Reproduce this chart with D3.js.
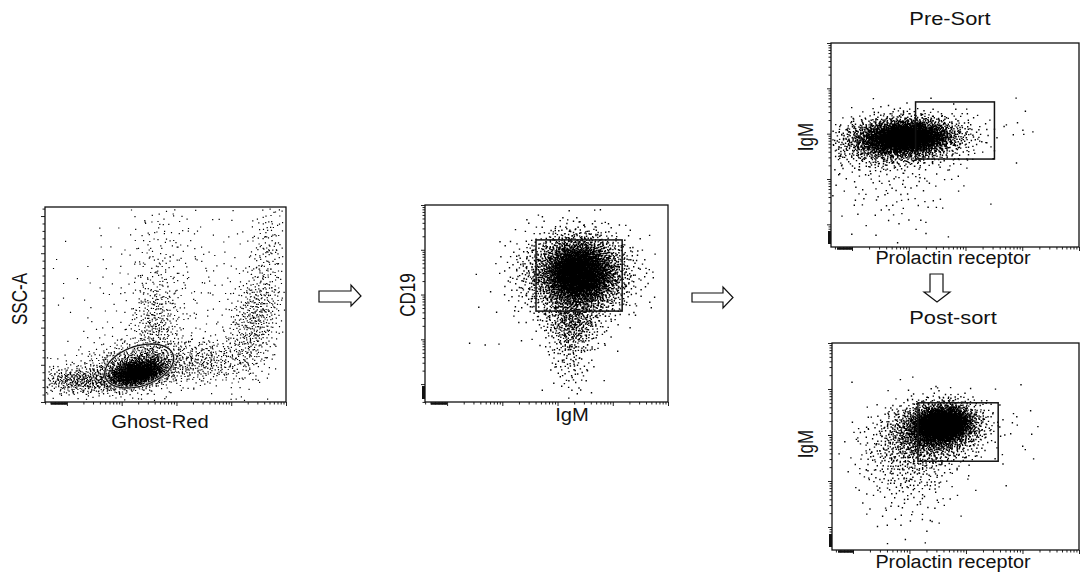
<!DOCTYPE html>
<html>
<head>
<meta charset="utf-8">
<script src="https://cdn.jsdelivr.net/npm/d3@7"></script>
<style>
  body { margin: 0; background: #fff; }
  text { font-family: "Liberation Sans", Arial, sans-serif; fill: #111; }
</style>
</head>
<body>
<script>
// populations: [centre x, centre y, spread x, spread y, correlation, events]
// fluorescence channels are in log10 units, SSC-A is linear
var liveClusters = [
    [2.28, 40300, 0.27, 10000, 0.30, 1700],
    [2.24, 49700, 0.58, 18800, 0.35, 800],
    [1.24, 29600, 0.40, 9400, 0.00, 420],
    [2.61, 103500, 0.22, 33600, 0.10, 330],
    [2.70, 197600, 0.33, 47000, 0.10, 130],
    [3.52, 53800, 0.46, 16100, 0.20, 330],
    [4.43, 110200, 0.26, 40300, 0.40, 520],
    [4.67, 211000, 0.18, 33600, 0.20, 120],
    [2.97, 137000, 1.19, 74000, 0.30, 330]
];
var bClusters = [
    [3.37, 3.50, 0.33, 0.36, 0.00, 3000],
    [3.32, 3.43, 0.51, 0.49, 0.00, 1800],
    [3.26, 2.38, 0.26, 0.36, 0.00, 450],
    [3.23, 1.50, 0.20, 0.40, 0.00, 100],
    [1.60, 2.10, 0.27, 0.33, 0.00, 4]
];
var preClusters = [
    [1.93, 2.93, 0.39, 0.18, 0.10, 2800],
    [1.84, 2.86, 0.61, 0.29, 0.10, 1500],
    [1.72, 1.95, 0.60, 0.60, 0.00, 140],
    [3.95, 3.19, 0.18, 0.33, 0.00, 8]
];
var postClusters = [
    [2.57, 3.24, 0.26, 0.20, 0.10, 2500],
    [2.45, 3.11, 0.44, 0.33, 0.10, 1500],
    [1.95, 2.55, 0.44, 0.50, 0.00, 450],
    [2.00, 1.59, 0.44, 0.54, 0.00, 50],
    [3.94, 3.11, 0.26, 0.54, 0.00, 12]
];

// gates
var liveGate = { centre: [2.32, 48400], major: [2.94, 63300], minor: [2.43, 22850] };
var bGate = [2.61, 4.17, 2.63, 4.22];
var preGate = [2.12, 3.51, 2.44, 3.70];
var postGate = [2.15, 3.57, 2.43, 3.70];

var fluorDomain = [0.6, 5];
var sscDomain = [0, 262144];

var svg = d3.select("body")
    .append("svg")
    .attr("width", 1080)
    .attr("height", 581);

var panels = [
    { data: liveClusters, box: [45, 286, 207, 402], xd: fluorDomain, yd: sscDomain, ylin: true, seed: 1, dot: 1.2 },
    { data: bClusters, box: [425, 668, 205, 402], xd: fluorDomain, yd: fluorDomain, seed: 2, dot: 1.4 },
    { data: preClusters, box: [831, 1079, 43, 247], xd: [0.63, 5], yd: [0.5, 5], seed: 3, dot: 1.4 },
    { data: postClusters, box: [832, 1079, 343, 550], xd: [0.63, 5], yd: [0.5, 5], seed: 4, dot: 1.4 }
];

// low discrepancy sequence, so the dot cloud is the same every time
function halton(i, b) {
    var f = 1, r = 0;
    while (i > 0) { f /= b; r += f * (i % b); i = Math.floor(i / b); }
    return r;
}

function logTicks(dom, major) {
    var t = [];
    for (var d = Math.floor(dom[0]); d <= Math.ceil(dom[1]); d++) {
        for (var m = 1; m <= 9; m++) {
            var v = d + Math.log10(m);
            if (v >= dom[0] && v <= dom[1] && (m == 1) == major) t.push(v);
        }
    }
    return t;
}

panels.forEach(function (p) {
    var x = d3.scaleLinear().domain(p.xd).range([p.box[0], p.box[1]]);
    var y = d3.scaleLinear().domain(p.yd).range([p.box[3], p.box[2]]);
    p.x = x; p.y = y;

    var g = svg.append("g");

    // events
    var pts = [];
    var s = p.dot;
    p.data.forEach(function (c, ci) {
        var off = p.seed * 20011 + ci * 7919 + 1;
        var k2 = Math.sqrt(1 - c[4] * c[4]);
        for (var k = 0; k < c[5]; k++) {
            var u1 = halton(k + off, 2), u2 = halton(k + off, 3);
            if (u1 <= 0) continue;
            var r = Math.sqrt(-2 * Math.log(u1));
            var z1 = r * Math.cos(2 * Math.PI * u2), z2 = r * Math.sin(2 * Math.PI * u2);
            var vx = c[0] + c[2] * z1;
            var vy = c[1] + c[3] * (c[4] * z1 + k2 * z2);
            var px = x(vx), py = y(vy);
            if (px < p.box[0] + 1 || px > p.box[1] - 2 || py < p.box[2] + 1 || py > p.box[3] - 2) continue;
            pts.push("M" + px.toFixed(1) + "," + py.toFixed(1) + "h" + s + "v" + s + "h-" + s + "z");
        }
    });
    g.append("path")
        .attr("d", pts.join(""))
        .attr("fill", "#000");

    // axes ticks
    g.append("g")
        .attr("transform", "translate(0," + p.box[3] + ")")
        .call(d3.axisBottom(x).tickValues(logTicks(p.xd, false)).tickSize(2.5).tickFormat(""));
    g.append("g")
        .attr("transform", "translate(0," + p.box[3] + ")")
        .call(d3.axisBottom(x).tickValues(logTicks(p.xd, true)).tickSize(4).tickFormat(""));
    if (p.ylin) {
        var lt = d3.range(0, 262145, 10000);
        g.append("g")
            .attr("transform", "translate(" + p.box[0] + ",0)")
            .call(d3.axisLeft(y).tickValues(lt.filter(function (v) { return v % 50000; })).tickSize(2.5).tickFormat(""));
        g.append("g")
            .attr("transform", "translate(" + p.box[0] + ",0)")
            .call(d3.axisLeft(y).tickValues(lt.filter(function (v) { return !(v % 50000); })).tickSize(4).tickFormat(""));
    } else {
        g.append("g")
            .attr("transform", "translate(" + p.box[0] + ",0)")
            .call(d3.axisLeft(y).tickValues(logTicks(p.yd, false)).tickSize(2.5).tickFormat(""));
        g.append("g")
            .attr("transform", "translate(" + p.box[0] + ",0)")
            .call(d3.axisLeft(y).tickValues(logTicks(p.yd, true)).tickSize(4).tickFormat(""));
        // compressed region near zero
        g.append("line")
            .attr("x1", p.box[0] - 1.5).attr("x2", p.box[0] - 1.5)
            .attr("y1", p.box[3] - 16).attr("y2", p.box[3] - 3)
            .attr("stroke", "#111").attr("stroke-width", 3);
    }
    g.append("line")
        .attr("x1", p.box[0] + 6).attr("x2", p.box[0] + 22)
        .attr("y1", p.box[3] + 1.5).attr("y2", p.box[3] + 1.5)
        .attr("stroke", "#111").attr("stroke-width", 2.5);
    g.selectAll(".domain").remove();
    g.selectAll(".tick line").attr("stroke", "#222").attr("stroke-width", 1);

    g.append("rect")
        .attr("x", p.box[0]).attr("y", p.box[2])
        .attr("width", p.box[1] - p.box[0]).attr("height", p.box[3] - p.box[2])
        .attr("fill", "none").attr("stroke", "#111").attr("stroke-width", 1.3);
});

// live gate ellipse
(function () {
    var p = panels[0];
    var c = [p.x(liveGate.centre[0]), p.y(liveGate.centre[1])];
    var a = [p.x(liveGate.major[0]) - c[0], p.y(liveGate.major[1]) - c[1]];
    var b = [p.x(liveGate.minor[0]) - c[0], p.y(liveGate.minor[1]) - c[1]];
    var ring = d3.range(0, 2 * Math.PI + 0.01, Math.PI / 60).map(function (t) {
        return [c[0] + a[0] * Math.cos(t) + b[0] * Math.sin(t), c[1] + a[1] * Math.cos(t) + b[1] * Math.sin(t)];
    });
    svg.append("path")
        .attr("d", d3.line()(ring) + "Z")
        .attr("fill", "none").attr("stroke", "#fff").attr("stroke-width", 2.6).attr("stroke-opacity", 0.6);
    svg.append("path")
        .attr("d", d3.line()(ring) + "Z")
        .attr("fill", "none").attr("stroke", "#111").attr("stroke-width", 1.3);
})();

[[panels[1], bGate], [panels[2], preGate], [panels[3], postGate]].forEach(function (q) {
    var p = q[0], r = q[1];
    svg.append("rect")
        .attr("x", p.x(r[0])).attr("y", p.y(r[3]))
        .attr("width", p.x(r[1]) - p.x(r[0]))
        .attr("height", p.y(r[2]) - p.y(r[3]))
        .attr("fill", "none").attr("stroke", "#111").attr("stroke-width", 1.5);
});

// labels
function hLabel(txt, cx, by, size, stretch) {
    var t = svg.append("text")
        .attr("x", cx).attr("y", by)
        .attr("text-anchor", "middle")
        .style("font-size", size + "px")
        .text(txt);
    var len = t.node().getComputedTextLength();
    t.attr("textLength", len * stretch).attr("lengthAdjust", "spacingAndGlyphs");
}
function vLabel(txt, cx, cy, size) {
    svg.append("text")
        .attr("transform", "translate(" + cx + "," + cy + ") rotate(-90) scale(1,1.25)")
        .attr("text-anchor", "middle")
        .attr("dy", "0.35em")
        .style("font-size", size + "px")
        .text(txt);
}

hLabel("Ghost-Red", 160, 428, 18, 1.12);
hLabel("IgM", 572, 421, 18, 1.12);
hLabel("Pre-Sort", 950, 25, 19, 1.15);
hLabel("Prolactin receptor", 953, 264, 18, 1.1);
hLabel("Post-sort", 953, 324, 19, 1.15);
hLabel("Prolactin receptor", 953, 568, 18, 1.1);
vLabel("SSC-A", 20, 299, 17);
vLabel("CD19", 408, 295, 17);
vLabel("IgM", 806, 137, 17);
vLabel("IgM", 806, 444, 17);

// block arrows between steps
var arrows = [
    [[319, 291], [351, 291], [351, 285], [361, 296], [351, 306], [351, 302], [319, 302]],
    [[692, 293], [723, 293], [723, 287], [733, 297.5], [723, 308], [723, 302], [692, 302]],
    [[930, 274], [943, 274], [943, 292], [950, 292], [937, 302], [924, 292], [930, 292]]
];
svg.selectAll(".arrow")
    .data(arrows)
    .enter().append("path")
    .attr("class", "arrow")
    .attr("d", function (d) { return d3.line()(d) + "Z"; })
    .attr("fill", "#fff")
    .attr("stroke", "#111")
    .attr("stroke-width", 1.2);
</script>
</body>
</html>
